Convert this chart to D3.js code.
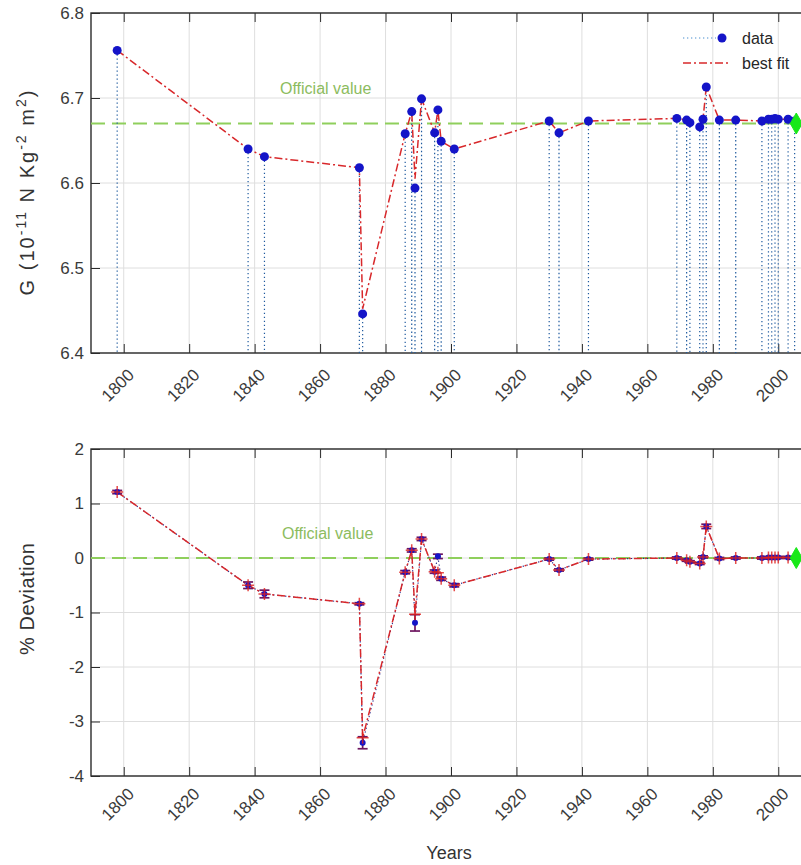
<!DOCTYPE html>
<html>
<head>
<meta charset="utf-8">
<script src="https://cdn.jsdelivr.net/npm/d3@7"></script>
<style>
  body { margin: 0; background: #fff; }
  svg { display: block; }
  text { font-family: "Liberation Sans", Arial, sans-serif; }
</style>
</head>
<body>
<div id="chart"></div>
<script>
// measurement years
var years = [1798, 1838, 1843, 1872, 1873, 1886, 1888, 1889, 1891, 1895, 1896, 1897, 1901,
             1930, 1933, 1942, 1969, 1972, 1973, 1976, 1977, 1978, 1982, 1987,
             1995, 1997, 1998, 1999, 2000, 2003, 2005];

// G in 10^-11 N Kg^-2 m^2
var gData = [6.756, 6.640, 6.631, 6.618, 6.446, 6.658, 6.684, 6.594, 6.699, 6.659, 6.686, 6.649, 6.640,
             6.673, 6.659, 6.673, 6.676, 6.674, 6.671, 6.666, 6.675, 6.713, 6.674, 6.674,
             6.673, 6.675, 6.675, 6.676, 6.675, 6.675, 6.673];
var gFit  = [6.756, 6.640, 6.631, 6.618, 6.452, 6.658, 6.684, 6.605, 6.699, 6.659, 6.686, 6.649, 6.640,
             6.673, 6.659, 6.673, 6.676, 6.674, 6.671, 6.666, 6.675, 6.713, 6.674, 6.674,
             6.673, 6.675, 6.675, 6.676, 6.675, 6.675, 6.673];

// % deviation from official value
var devData = [1.21, -0.50, -0.66, -0.84, -3.39, -0.26, 0.14, -1.19, 0.35, -0.25, 0.03, -0.38, -0.50,
               -0.02, -0.22, -0.02, 0.00, -0.04, -0.07, -0.10, 0.02, 0.58, -0.01, 0.00,
               0.00, 0.01, 0.01, 0.01, 0.01, 0.01, 0.00];
var devFit  = [1.21, -0.50, -0.66, -0.84, -3.30, -0.26, 0.14, -1.03, 0.35, -0.25, -0.27, -0.38, -0.50,
               -0.02, -0.22, -0.02, 0.00, -0.04, -0.07, -0.10, 0.02, 0.58, -0.01, 0.00,
               0.00, 0.01, 0.01, 0.01, 0.01, 0.01, 0.00];
var devErr  = [0.03, 0.06, 0.07, 0.02, 0.11, 0.03, 0.03, 0.15, 0.03, 0.03, 0.04, 0.03, 0.03,
               0.02, 0.02, 0.02, 0.02, 0.02, 0.02, 0.02, 0.02, 0.04, 0.02, 0.02,
               0.02, 0.02, 0.02, 0.02, 0.02, 0.02, 0.02];

var xTicks = [1800, 1820, 1840, 1860, 1880, 1900, 1920, 1940, 1960, 1980, 2000];
var gTicks = [6.4, 6.5, 6.6, 6.7, 6.8];
var devTicks = [-4, -3, -2, -1, 0, 1, 2];

var officialG = 6.67, officialDev = 0, officialYear = 2005.5;

var width = 801, height = 865;
var axisColor = '#2b2b2b', gridColor = '#dedede';
var fitColor = '#d8282b', dataColor = '#1414c8', officialColor = '#8fcf5c';

var svg = d3.select('#chart').append('svg')
    .attr('width', width)
    .attr('height', height);

var x = d3.scaleLinear().domain([1790, 2010]).range([91, 811]);
var yTop = d3.scaleLinear().domain([6.4, 6.8]).range([353, 13]);
var yBot = d3.scaleLinear().domain([-4, 2]).range([776, 449]);

function frame(y, yTicks, fmt, labelDy) {
  var x0 = x.range()[0], x1 = x.range()[1];
  var y0 = y.range()[0], y1 = y.range()[1];
  var g = svg.append('g');

  g.selectAll('line.vg').data(xTicks).enter().append('line')
    .attr('x1', function(d) { return x(d); }).attr('x2', function(d) { return x(d); })
    .attr('y1', y0).attr('y2', y1)
    .style('stroke', gridColor).style('stroke-width', 1);
  g.selectAll('line.hg').data(yTicks).enter().append('line')
    .attr('x1', x0).attr('x2', x1)
    .attr('y1', function(d) { return y(d); }).attr('y2', function(d) { return y(d); })
    .style('stroke', gridColor).style('stroke-width', 1);

  var bottom = g.append('g').attr('transform', 'translate(0,' + y0 + ')')
    .attr('color', axisColor)
    .call(d3.axisBottom(x).tickValues(xTicks).tickSizeInner(-9).tickSizeOuter(0).tickFormat(d3.format('d')));
  bottom.select('.domain').remove();
  bottom.selectAll('text')
    .attr('x', 0).attr('y', 0).attr('dy', 0)
    .attr('text-anchor', 'end')
    .attr('font-size', 17)
    .attr('fill', '#3a3a3a')
    .attr('transform', 'translate(11,' + labelDy + ') rotate(-45)');

  var top = g.append('g').attr('transform', 'translate(0,' + y1 + ')')
    .attr('color', axisColor)
    .call(d3.axisTop(x).tickValues(xTicks).tickSizeInner(-9).tickSizeOuter(0).tickFormat(''));
  top.select('.domain').remove();

  var left = g.append('g').attr('transform', 'translate(' + x0 + ',0)')
    .attr('color', axisColor)
    .call(d3.axisLeft(y).tickValues(yTicks).tickSizeInner(-9).tickSizeOuter(0).tickPadding(7).tickFormat(fmt));
  left.select('.domain').remove();
  left.selectAll('text')
    .attr('font-size', 17)
    .attr('fill', '#3a3a3a');

  var right = g.append('g').attr('transform', 'translate(' + x1 + ',0)')
    .attr('color', axisColor)
    .call(d3.axisRight(y).tickValues(yTicks).tickSizeInner(-9).tickSizeOuter(0).tickFormat(''));
  right.select('.domain').remove();

  g.append('rect')
    .attr('x', x0).attr('y', y1)
    .attr('width', x1 - x0).attr('height', y0 - y1)
    .style('fill', 'none')
    .style('stroke', axisColor)
    .style('stroke-width', 1.4);
}

function official(y, value, tx, ty) {
  svg.append('line')
    .attr('x1', x(1790)).attr('x2', x(officialYear))
    .attr('y1', y(value)).attr('y2', y(value))
    .style('stroke', officialColor)
    .style('stroke-width', 2)
    .style('stroke-dasharray', '14,7');
  svg.append('text')
    .attr('x', tx).attr('y', ty)
    .attr('font-size', 16)
    .style('fill', '#8cbc5e')
    .text('Official value');
}

function diamond(y, value) {
  svg.append('path')
    .attr('d', 'M0,-10.5L6,0L0,10.5L-6,0Z')
    .attr('transform', 'translate(' + x(officialYear) + ',' + y(value) + ')')
    .style('fill', '#18e818')
    .style('stroke', '#18e818');
}

var fitDash = '8,3,2,3';

// ---------- top chart ----------
frame(yTop, gTicks, d3.format('.1f'), 23);
official(yTop, officialG, 280, 94);

svg.append('g').selectAll('line').data(years).enter().append('line')
  .attr('x1', function(d) { return x(d); })
  .attr('x2', function(d) { return x(d); })
  .attr('y1', function(d, i) { return yTop(gData[i]); })
  .attr('y2', yTop(6.4))
  .style('stroke', '#1f5a9e')
  .style('stroke-width', 1.2)
  .style('stroke-dasharray', '1.3,2.7');

var topFit = d3.line()
  .x(function(d) { return x(d); })
  .y(function(d, i) { return yTop(gFit[i]); });

svg.append('path')
  .datum(years)
  .attr('d', topFit)
  .style('fill', 'none')
  .style('stroke', fitColor)
  .style('stroke-width', 1.5)
  .style('stroke-dasharray', fitDash);

svg.append('g').selectAll('circle').data(years).enter().append('circle')
  .attr('cx', function(d) { return x(d); })
  .attr('cy', function(d, i) { return yTop(gData[i]); })
  .attr('r', 4.5)
  .style('fill', dataColor);

diamond(yTop, officialG);

// legend
var lg = svg.append('g');
lg.append('line')
  .attr('x1', 683).attr('x2', 716).attr('y1', 38).attr('y2', 38)
  .style('stroke', '#4a8fd0').style('stroke-width', 1.2).style('stroke-dasharray', '1.3,2.7');
lg.append('circle').attr('cx', 722).attr('cy', 38).attr('r', 4.5).style('fill', dataColor);
lg.append('text').attr('x', 742).attr('y', 44).attr('font-size', 16).style('fill', '#262626').text('data');
lg.append('line')
  .attr('x1', 683).attr('x2', 731).attr('y1', 63).attr('y2', 63)
  .style('stroke', fitColor).style('stroke-width', 1.5).style('stroke-dasharray', fitDash);
lg.append('text').attr('x', 742).attr('y', 69).attr('font-size', 16).style('fill', '#262626').text('best fit');

// y label top
var yl = svg.append('text')
  .attr('transform', 'translate(34,193) rotate(-90)')
  .attr('text-anchor', 'middle')
  .attr('font-size', 20)
  .attr('textLength', 205)
  .attr('lengthAdjust', 'spacing')
  .style('fill', '#333');
yl.append('tspan').text('G (10');
yl.append('tspan').attr('dy', -8).attr('font-size', 14).text('-11');
yl.append('tspan').attr('dy', 8).text(' N Kg');
yl.append('tspan').attr('dy', -8).attr('font-size', 14).text('-2');
yl.append('tspan').attr('dy', 8).text(' m');
yl.append('tspan').attr('dy', -8).attr('font-size', 14).text('2');
yl.append('tspan').attr('dy', 8).text(')');

// ---------- bottom chart ----------
frame(yBot, devTicks, function(d) { return String(d); }, 19);
official(yBot, officialDev, 282, 539);

var botData = d3.line()
  .x(function(d) { return x(d); })
  .y(function(d, i) { return yBot(devData[i]); });
var botFit = d3.line()
  .x(function(d) { return x(d); })
  .y(function(d, i) { return yBot(devFit[i]); });

svg.append('path')
  .datum(years)
  .attr('d', botData)
  .style('fill', 'none')
  .style('stroke', '#2a2a8a')
  .style('stroke-width', 1.1)
  .style('stroke-dasharray', '1.3,2.7');

svg.append('path')
  .datum(years)
  .attr('d', botFit)
  .style('fill', 'none')
  .style('stroke', fitColor)
  .style('stroke-width', 1.5)
  .style('stroke-dasharray', fitDash);

var eb = svg.append('g').selectAll('g').data(years).enter().append('g')
  .style('stroke', '#6e1660')
  .style('stroke-width', 1.7);
eb.append('line')
  .attr('x1', function(d) { return x(d); }).attr('x2', function(d) { return x(d); })
  .attr('y1', function(d, i) { return yBot(devData[i] - devErr[i]); })
  .attr('y2', function(d, i) { return yBot(devData[i] + devErr[i]); });
eb.append('line')
  .attr('x1', function(d) { return x(d) - 5; }).attr('x2', function(d) { return x(d) + 5; })
  .attr('y1', function(d, i) { return yBot(devData[i] - devErr[i]); })
  .attr('y2', function(d, i) { return yBot(devData[i] - devErr[i]); });
eb.append('line')
  .attr('x1', function(d) { return x(d) - 5; }).attr('x2', function(d) { return x(d) + 5; })
  .attr('y1', function(d, i) { return yBot(devData[i] + devErr[i]); })
  .attr('y2', function(d, i) { return yBot(devData[i] + devErr[i]); });

svg.append('g').selectAll('circle').data(years).enter().append('circle')
  .attr('cx', function(d) { return x(d); })
  .attr('cy', function(d, i) { return yBot(devData[i]); })
  .attr('r', 3)
  .style('fill', dataColor);

svg.append('g').selectAll('path').data(years).enter().append('path')
  .attr('d', 'M-6,0H6M0,-6V6')
  .attr('transform', function(d, i) { return 'translate(' + x(d) + ',' + yBot(devFit[i]) + ')'; })
  .style('stroke', '#e0201c')
  .style('stroke-width', 1.5)
  .style('opacity', 0.8);

diamond(yBot, officialDev);

svg.append('text')
  .attr('transform', 'translate(34,599) rotate(-90)')
  .attr('text-anchor', 'middle')
  .attr('font-size', 20)
  .attr('textLength', 112)
  .attr('lengthAdjust', 'spacing')
  .style('fill', '#333')
  .text('% Deviation');

svg.append('text')
  .attr('x', 449).attr('y', 859)
  .attr('text-anchor', 'middle')
  .attr('font-size', 18)
  .style('fill', '#333')
  .text('Years');
</script>
</body>
</html>
